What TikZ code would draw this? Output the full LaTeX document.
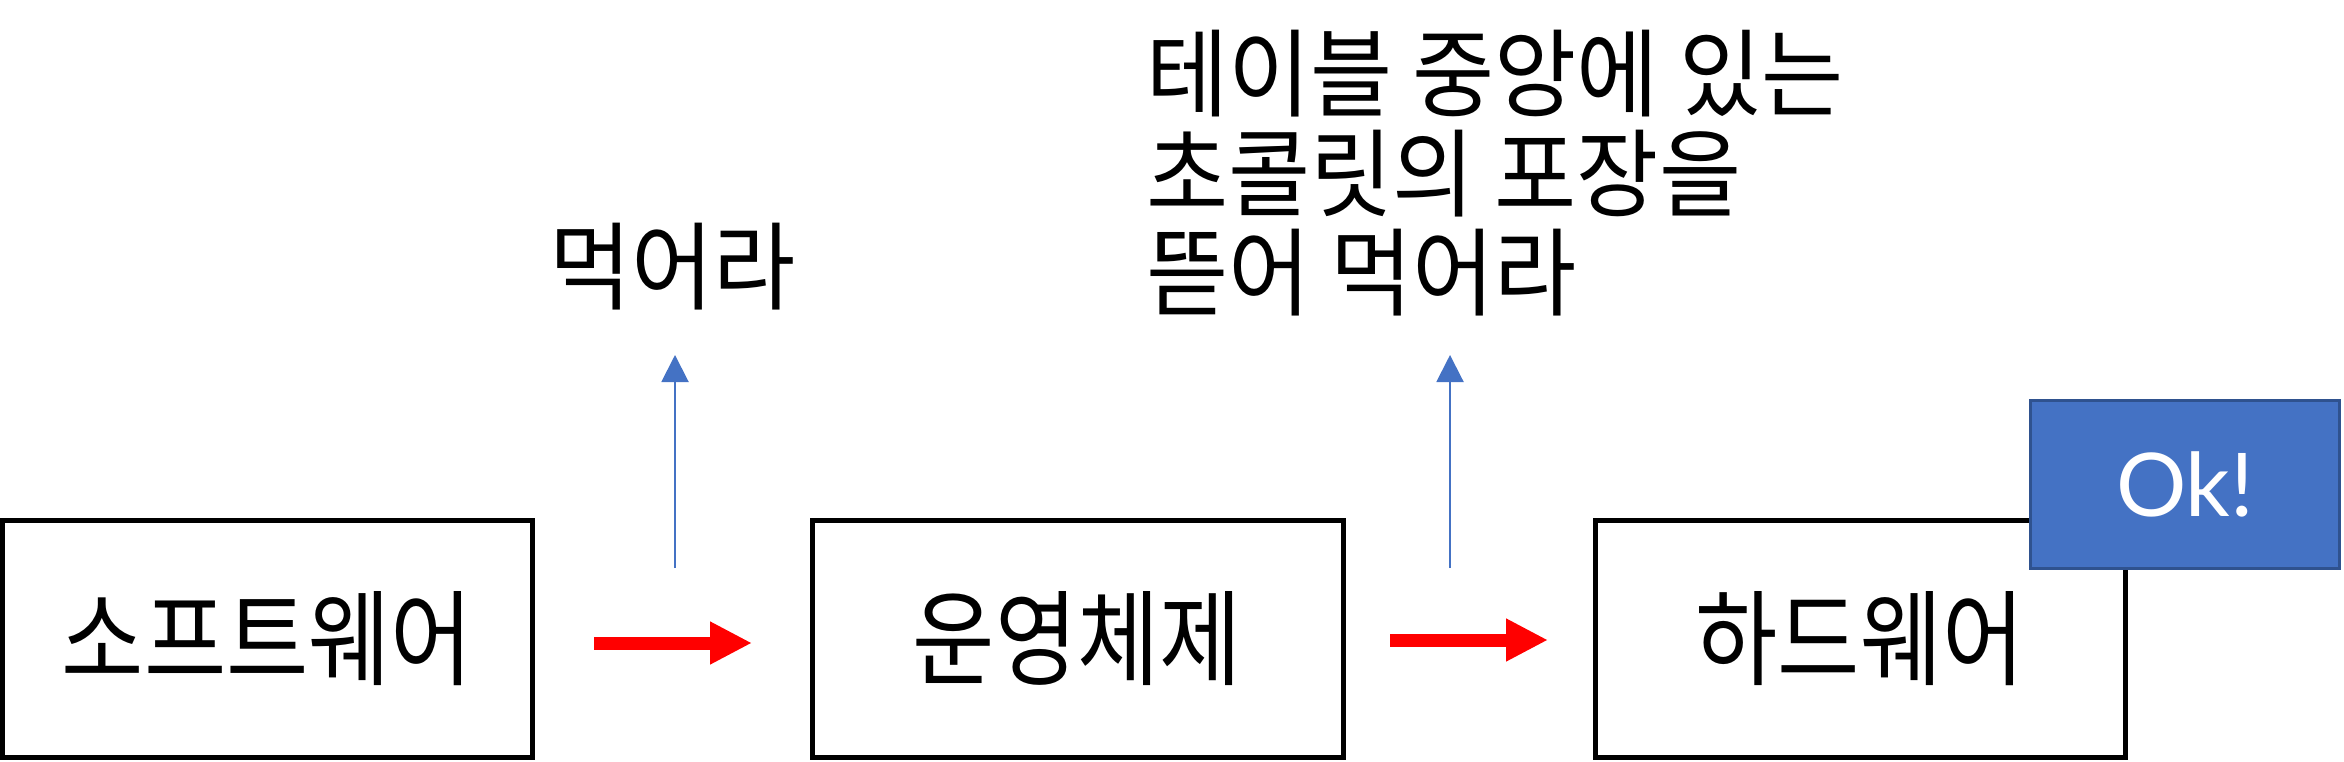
\documentclass[tikz,border=0pt]{standalone}
\usepackage{fontspec}
\setmainfont[FakeStretch=0.86]{Noto Sans CJK KR}
\newfontfamily\lblfont[FakeStretch=0.93]{Noto Sans CJK KR}
\newfontfamily\okfont{Lato}
\usetikzlibrary{arrows.meta}
\definecolor{okblue}{HTML}{4472C4}
\definecolor{okborder}{HTML}{2F528F}
\definecolor{arrred}{HTML}{FF0000}
\tikzset{
  blk/.style={draw=black, line width=5pt, minimum width=530pt, minimum height=237pt, inner sep=0pt, font=\fontsize{104}{110}\selectfont},
  okbox/.style={draw=okborder, fill=okblue, line width=3pt, minimum width=309pt, minimum height=168pt, inner sep=0pt, text=white, font=\okfont\fontsize{88}{96}\selectfont},
  redarr/.style={draw=arrred, line width=13pt, -{Triangle[length=42pt,width=40pt]}},
  bluearr/.style={draw=okblue, line width=2pt, -{Triangle[length=27pt,width=27pt]}},
  lbl/.style={anchor=base west, inner sep=0pt, font=\lblfont\fontsize{96}{100}\selectfont}
}
\begin{document}
\begin{tikzpicture}[x=1pt,y=-1pt]
\useasboundingbox (0,0) rectangle (2344,762);
\node[blk] (sw) at (267.5,639) {소프트웨어};
\node[blk, minimum width=531pt] (os) at (1077.5,639) {운영체제};
\node[blk] (hw) at (1860,639) {하드웨어};
\node[okbox] (ok) at (2185,484.5) {Ok!};
\coordinate (r1s) at (594,643);
\coordinate (r1e) at (752,643);
\coordinate (r2s) at (1390,640);
\coordinate (r2e) at (1548,640);
\draw[redarr] (r1s) -- (r1e);
\draw[redarr] (r2s) -- (r2e);
\coordinate (b1s) at (675,568);
\coordinate (b1e) at (675,355);
\coordinate (b2s) at (1450,568);
\coordinate (b2e) at (1450,355);
\draw[bluearr] (b1s) -- (b1e);
\draw[bluearr] (b2s) -- (b2e);
\node[lbl] (eat) at (549,302) {먹어라};
\node[lbl] (l1) at (1146,110) {테이블 중앙에 있는};
\node[lbl] (l2) at (1146,209) {초콜릿의 포장을};
\node[lbl] (l3) at (1146,308) {뜯어 먹어라};
\end{tikzpicture}
\end{document}
